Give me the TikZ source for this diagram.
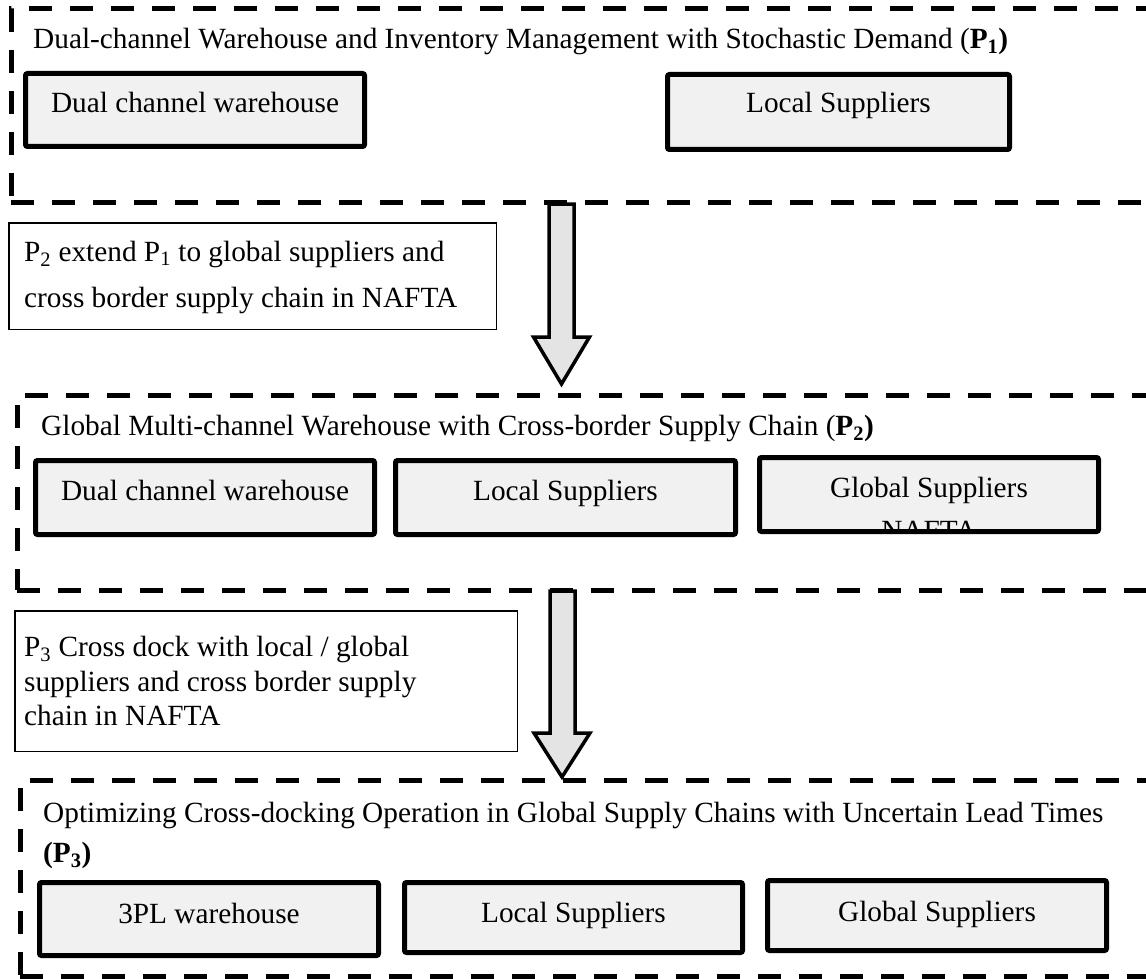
\documentclass[tikz,border=0pt]{standalone}
\usepackage{fontspec}
\setmainfont{Liberation Serif}
\usetikzlibrary{fit}
\definecolor{boxfill}{HTML}{F1F1F1}
\definecolor{arrowfill}{HTML}{E4E4E4}
\begin{document}
\begin{tikzpicture}[x=1pt,y=-1pt,
  frame/.style={draw, line width=5pt, dash pattern=on 23pt off 18pt, inner sep=0pt},
  itembox/.style={draw, line width=5pt, fill=boxfill, rounded corners=2pt, inner sep=0pt, outer sep=0pt},
  notebox/.style={draw, line width=1.5pt, inner sep=0pt},
  txt/.style={inner sep=0pt, font=\fontsize{29.3}{34}\selectfont},
  flow/.style={draw, line width=3.5pt, fill=arrowfill, line join=miter}
]
\useasboundingbox (0,0) rectangle (1146,979);

% ---- stage P1 ----
\node[frame, fit={(11,9) (1165,202)}] (fr1) {};
\node[txt, anchor=base west] (t1) at (33,49)
  {Dual-channel Warehouse and Inventory Management with Stochastic Demand (\textbf{P\textsubscript{1})}};
\node[itembox, fit={(25.5,73.5) (364.5,146.5)}] (wh1) {};
\node[txt, anchor=base] (wh1t) at (195,113) {Dual channel warehouse};
\node[itembox, fit={(667.5,74.5) (1009.5,149.5)}] (ls1) {};
\node[txt, anchor=base] (ls1t) at (838.5,113) {Local Suppliers};

% ---- transition P1 -> P2 ----
\node[notebox, fit={(8.75,222.75) (496.25,329.25)}] (n2) {};
\node[txt, anchor=base west] (n2a) at (24,261) {P\textsubscript{2} extend P\textsubscript{1} to global suppliers and};
\node[txt, anchor=base west] (n2b) at (24,307) {cross border supply chain in NAFTA};
\draw[flow] (549,204) -- (574,204) -- (574,337) -- (589.5,337) -- (561.5,384)
  -- (533.5,337) -- (549,337) -- cycle;

% ---- stage P2 ----
\node[frame, fit={(17,395) (1165,590)}] (fr2) {};
\node[txt, anchor=base west] (t2) at (41,435)
  {Global Multi-channel Warehouse with Cross-border Supply Chain (\textbf{P\textsubscript{2})}};
\node[itembox, fit={(35.5,460.5) (374.5,534.5)}] (wh2) {};
\node[txt, anchor=base] (wh2t) at (205,500) {Dual channel warehouse};
\node[itembox, fit={(395.5,460.5) (735.5,534.5)}] (ls2) {};
\node[txt, anchor=base] (ls2t) at (565.5,500) {Local Suppliers};
% the two-line label overflows its box and is cut at the inner edge
\node[itembox, draw=none, fit={(759.5,457.5) (1098.5,531.5)}] (gs2) {};
\begin{scope}
  \clip (762,460) rectangle (1096,529);
  \node[txt, anchor=base] (gs2t) at (929,497) {Global Suppliers};
  \node[txt, anchor=base] (gs2u) at (929,540) {NAFTA};
\end{scope}
\draw[line width=5pt, rounded corners=2pt] (gs2.north west) rectangle (gs2.south east);

% ---- transition P2 -> P3 ----
\node[notebox, fit={(14.75,610.75) (517.25,751.25)}] (n3) {};
\node[txt, anchor=base west] (n3a) at (24,656) {P\textsubscript{3} Cross dock with local / global};
\node[txt, anchor=base west] (n3b) at (24,691) {suppliers and cross border supply};
\node[txt, anchor=base west] (n3c) at (24,725) {chain in NAFTA};
\draw[flow] (550,591) -- (575,591) -- (575,733) -- (590,733) -- (562,777)
  -- (534,733) -- (550,733) -- cycle;

% ---- stage P3 ----
\node[frame, fit={(20,780) (1148,976)}] (fr3) {};
\node[txt, anchor=base west] (t3) at (43,822)
  {Optimizing Cross-docking Operation in Global Supply Chains with Uncertain Lead Times};
\node[txt, anchor=base west] (t3b) at (43,862) {\textbf{(P\textsubscript{3})}};
\node[itembox, fit={(39.5,882.5) (378.5,955.5)}] (pl3) {};
\node[txt, anchor=base] (pl3t) at (209,923) {3PL warehouse};
\node[itembox, fit={(404.5,882.5) (742.5,952.5)}] (ls3) {};
\node[txt, anchor=base] (ls3t) at (573.5,922) {Local Suppliers};
\node[itembox, fit={(767.5,880.5) (1106.5,950.5)}] (gs3) {};
\node[txt, anchor=base] (gs3t) at (937,921) {Global Suppliers};
\end{tikzpicture}
\end{document}
